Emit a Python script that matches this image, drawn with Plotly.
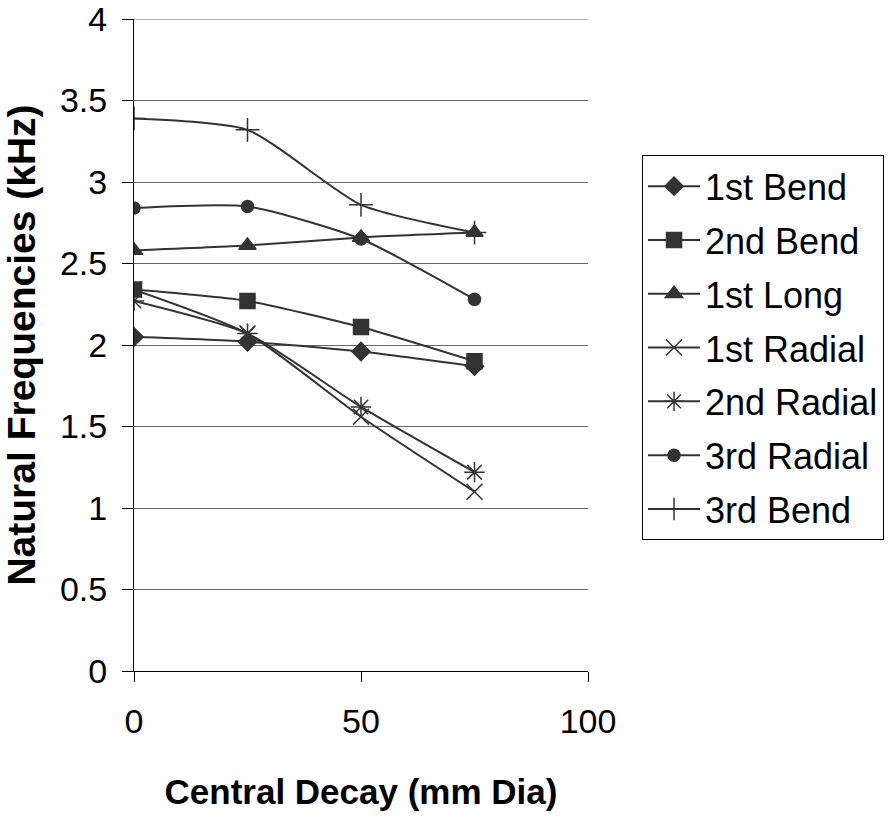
import plotly.graph_objects as go

x_vals = [0, 25, 50, 75]
series_names = ["1st Bend", "2nd Bend", "1st Long", "1st Radial", "2nd Radial", "3rd Radial", "3rd Bend"]
bend1 = [2.05, 2.02, 1.96, 1.87]
bend2 = [2.34, 2.27, 2.11, 1.90]
long1 = [2.58, 2.61, 2.66, 2.69]
radial1 = [2.34, 2.07, 1.56, 1.10]
radial2 = [2.27, 2.07, 1.62, 1.22]
radial3 = [2.84, 2.85, 2.65, 2.28]
bend3 = [3.39, 3.32, 2.86, 2.69]
series_values = [bend1, bend2, long1, radial1, radial2, radial3, bend3]

y_ticks = [0, 0.5, 1, 1.5, 2, 2.5, 3, 3.5, 4]
y_ticktext = ["0", "0.5", "1", "1.5", "2", "2.5", "3", "3.5", "4"]
x_ticks = [0, 50, 100]
y_max = 4

symbols = ["diamond", "square", "triangle-up", "x-thin-open", "asterisk-open", "circle", "cross-thin-open"]
sizes = [14, 15, 15, 16, 17, 12, 17]
col = "#333333"
grid_col = "#666666"
font_family = "Liberation Sans, Arial, sans-serif"

fig = go.Figure()
for i, (name, vals, sym, sz) in enumerate(zip(series_names, series_values, symbols, sizes)):
    fig.add_trace(go.Scatter(
        x=x_vals, y=vals, name=name, mode="lines+markers", legendgroup=f"g{i}",
        line=dict(color=col, width=2, shape="spline", smoothing=0.6),
        marker=dict(symbol=sym, size=sz, color=col, line=dict(color=col, width=1.5)),
    ))

# top gridline (Plotly suppresses the gridline at the range edge)
fig.add_shape(type="line", xref="paper", yref="y", x0=0, x1=1, y0=y_max, y1=y_max,
              line=dict(color=grid_col, width=1), layer="below")

fig.update_layout(
    width=892, height=817,
    margin=dict(l=134, r=304, t=19, b=146, autoexpand=False),
    paper_bgcolor="white", plot_bgcolor="white",
    font=dict(family=font_family, size=34, color="black"),
    showlegend=True,
    legend=dict(x=1.119, y=0.791, xanchor="left", yanchor="top",
                bordercolor="black", borderwidth=1, bgcolor="white",
                font=dict(size=36), tracegroupgap=4, itemwidth=52),
)
fig.update_xaxes(range=[0, 100], tickvals=x_ticks, showgrid=False, automargin=False,
                 showline=True, linecolor="black", linewidth=1,
                 ticks="outside", ticklen=10, tickcolor="black", ticklabelstandoff=10,
                 tickfont=dict(size=34), zeroline=False, ticklabeloverflow="allow",
                 title=dict(text="<b>Central Decay (mm Dia)</b>", standoff=40,
                            font=dict(size=35)))
fig.update_yaxes(range=[0, y_max], tickvals=y_ticks, ticktext=y_ticktext, automargin=False,
                 showgrid=True, gridcolor=grid_col, gridwidth=1,
                 showline=True, linecolor="black", linewidth=1,
                 ticks="outside", ticklen=11, tickcolor="black", ticklabelstandoff=8,
                 tickfont=dict(size=34), zeroline=False, ticklabeloverflow="allow",
                 title=dict(text="<b>Natural Frequencies (kHz)</b>", standoff=12,
                            font=dict(size=39)))

fig.write_html("out.html")
